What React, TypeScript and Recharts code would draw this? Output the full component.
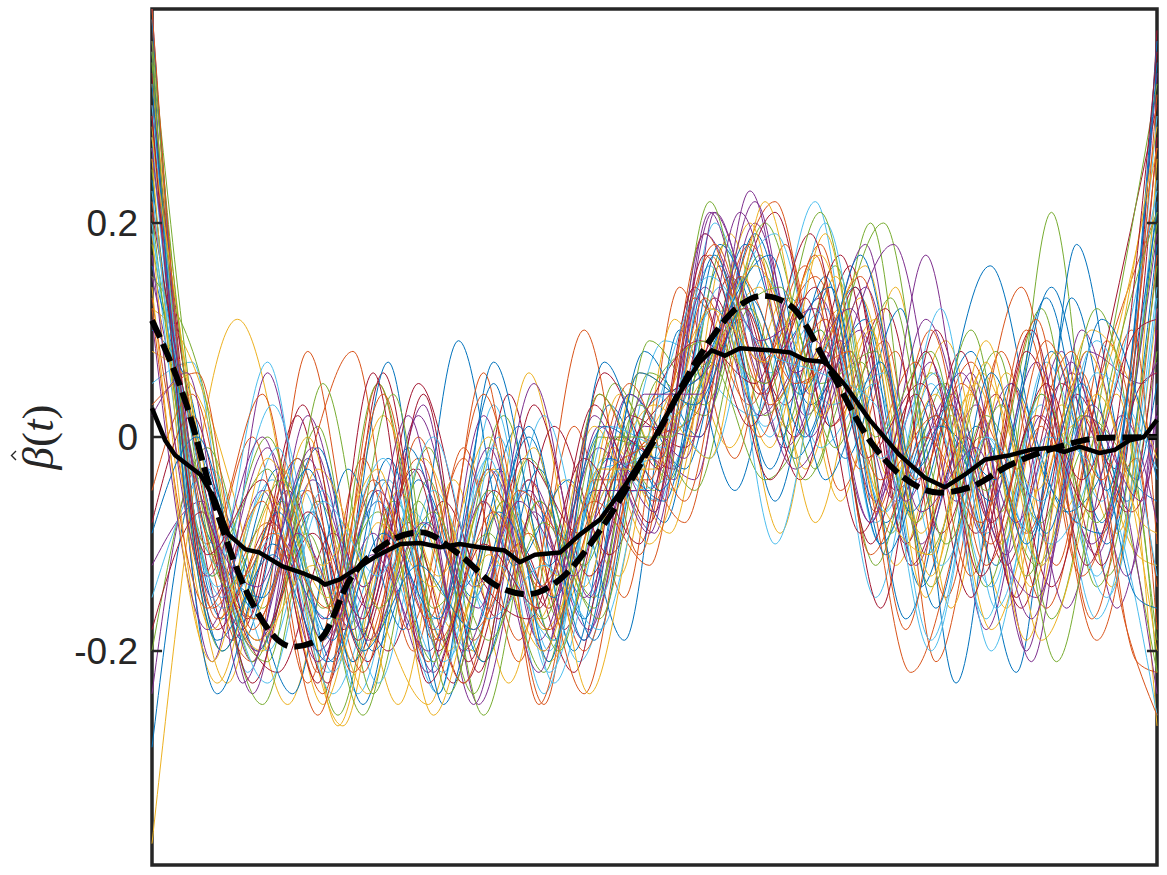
import {
  Line,
  LineChart,
  ReferenceArea,
  ReferenceLine,
  XAxis,
  YAxis,
} from 'recharts';

type Pt = [number, number];

const Y_TICKS = [-0.2, 0, 0.2];
const LINE_COLORS = ['#0072BD', '#D95319', '#EDB120', '#7E2F8E', '#77AC30', '#4DBEEE', '#A2142F'];

// bootstrap estimates at their peaks and troughs
const run01: Pt[] = [[0,0.30],[7,-0.17],[12.5,-0.03],[18,-0.21],[23.5,-0.02],[29,-0.19],[34.5,-0.03],[40,-0.19],[45.5,0.03],[51,-0.08],[56.5,0.16],[62,-0.06],[67.5,0.14],[73,-0.08],[78.5,0.05],[84,-0.12],[89.5,0.08],[95,-0.10],[100,0.18]];
const run02: Pt[] = [[0,0.36],[5,-0.13],[10,0.0],[15.5,-0.23],[21,-0.02],[26,-0.20],[31,-0.01],[36.5,-0.21],[42,0.01],[47,-0.15],[52.5,0.14],[58,-0.02],[63,0.18],[68.5,-0.05],[74,0.08],[79,-0.15],[84.5,0.08],[90,-0.12],[95,0.09],[100,-0.14]];
const run03: Pt[] = [[0,-0.38],[8.5,0.11],[19,-0.27],[24.5,-0.05],[30,-0.18],[35.5,-0.04],[41,-0.16],[46.5,0.04],[52,-0.05],[57.5,0.19],[63,0.01],[68.5,0.12],[74,-0.12],[79.5,0.02],[85,-0.16],[90.5,0.03],[96,-0.09],[100,0.12]];
const run04: Pt[] = [[0,0.37],[6,-0.21],[11.5,0.06],[17,-0.17],[22.5,-0.06],[28,-0.22],[33.5,-0.03],[39,-0.14],[44.5,-0.01],[50,-0.09],[55.5,0.21],[61,0.05],[66.5,0.13],[72,-0.06],[77.5,0.07],[83,-0.18],[88.5,0.02],[94,-0.11],[100,0.34]];
const run05: Pt[] = [[0,0.25],[7,-0.20],[13,-0.06],[18.5,-0.26],[24,-0.06],[29.5,-0.15],[35,0.02],[40.5,-0.17],[46,0.05],[51.5,-0.04],[57,0.18],[62.5,0.0],[68,0.16],[73.5,-0.09],[79,0.05],[84.5,-0.07],[89.5,0.21],[95,-0.13],[100,0.08]];
const run06: Pt[] = [[0,0.05],[4,0.07],[9.5,-0.22],[15,-0.05],[20.5,-0.24],[26,-0.07],[31.5,-0.20],[37,-0.05],[42.5,-0.21],[51,0.09],[60,0.02],[66,0.22],[72,-0.08],[77.5,0.03],[83,-0.17],[88.5,0.04],[94,-0.13],[100,0.24]];
const run07: Pt[] = [[0,0.33],[8,-0.19],[13.5,-0.05],[19,-0.18],[24.5,-0.09],[30,-0.23],[35.5,0.04],[41,-0.18],[46.5,0.0],[52,-0.03],[57.5,0.15],[63,0.03],[68.5,0.17],[74,-0.05],[79.5,0.03],[85,-0.12],[90.5,0.05],[96,-0.03],[100,0.38]];
const run08: Pt[] = [[0,-0.29],[5,-0.03],[10.5,-0.20],[16,-0.07],[21,-0.25],[26.5,-0.04],[32,-0.15],[37.5,0.0],[43,-0.17],[49,0.08],[54.5,0.0],[60,0.19],[65.5,0.03],[71,0.11],[76.5,-0.14],[82,0.01],[87.5,-0.09],[92,0.18],[97,-0.03],[100,-0.06]];
const run09: Pt[] = [[0,0.22],[10,-0.21],[15.5,0.08],[21,-0.14],[26.5,-0.02],[32,-0.19],[37.5,-0.04],[43,-0.20],[48.5,-0.03],[53,-0.08],[58,0.14],[62,0.22],[67.5,0.01],[73,0.09],[78,-0.21],[83.5,-0.02],[89,-0.16],[94.5,0.06],[100,0.21]];
const run10: Pt[] = [[0,0.12],[3,0.09],[8,-0.05],[13.5,-0.25],[19,-0.08],[24.5,-0.25],[30,-0.04],[35.5,-0.23],[41,-0.04],[46.5,-0.13],[52,0.11],[57.5,-0.01],[63,0.13],[68.5,-0.06],[74,0.14],[79.5,-0.16],[85,0.06],[90.5,-0.07],[96,0.04],[100,-0.27]];
const run11: Pt[] = [[0,-0.24],[4.5,-0.03],[10,-0.24],[15.5,-0.02],[21,-0.18],[26.5,0.02],[32,-0.14],[37.5,-0.05],[43,-0.19],[48.5,0.0],[54,-0.04],[59.5,0.23],[65,0.02],[70.5,0.10],[76,-0.12],[81.5,0.06],[87,-0.20],[92.5,0.10],[98,-0.04],[100,0.02]];
const run12: Pt[] = [[0,0.18],[6,-0.10],[11,-0.25],[16.5,-0.06],[22,-0.19],[27.5,-0.01],[33,-0.21],[38.5,-0.06],[44,-0.15],[49.5,0.06],[55,0.02],[60.5,0.17],[66,-0.03],[71.5,0.20],[77,-0.11],[82.5,0.0],[88,-0.12],[93.5,0.0],[100,-0.22]];
const run13: Pt[] = [[0,0.28],[6.5,-0.14],[12,-0.04],[17.5,-0.22],[23,-0.11],[28.5,-0.24],[34,0.03],[39.5,-0.20],[45,-0.02],[50.5,-0.06],[56,0.20],[61.5,0.06],[67,0.12],[72.5,-0.10],[78,0.01],[83.5,-0.14],[89,0.07],[94.5,-0.06],[100,0.30]];
const run14: Pt[] = [[0,0.31],[5,-0.05],[9,-0.18],[14.5,0.02],[20,-0.21],[25.5,-0.08],[31,-0.23],[36.5,-0.10],[42,-0.22],[47.5,0.02],[53,-0.01],[58.5,0.11],[64,0.0],[69.5,0.16],[75,-0.10],[80.5,0.08],[86,-0.15],[91.5,0.06],[97,-0.07],[100,0.10]];
const run15: Pt[] = [[0,0.10],[3.5,0.05],[9,-0.19],[14.5,-0.02],[20,-0.21],[25.5,-0.01],[31,-0.14],[36.5,0.01],[42,-0.20],[47.5,0.04],[53,-0.03],[58.5,0.15],[64,-0.02],[69.5,0.08],[75,-0.17],[80.5,-0.01],[86,-0.22],[91.5,0.13],[97,-0.06],[100,0.05]];
const run16: Pt[] = [[0,0.39],[6,-0.16],[11.5,-0.08],[17,-0.24],[22.5,0.05],[28,-0.19],[33.5,-0.03],[39,-0.25],[44.5,0.04],[50,-0.06],[55.5,0.17],[61,0.04],[66.5,0.18],[72,-0.07],[77.5,0.10],[83,-0.12],[88.5,0.01],[94,-0.19],[100,0.17]];
const run17: Pt[] = [[0,0.29],[7.5,-0.23],[13,-0.03],[18.5,-0.27],[24,-0.07],[29.5,-0.20],[35,-0.06],[40.5,-0.13],[46,-0.01],[51.5,-0.09],[57,0.12],[62.5,-0.09],[68,0.15],[73.5,-0.04],[79,0.09],[84.5,-0.10],[90,0.08],[95.5,-0.14],[100,0.26]];
const run18: Pt[] = [[0,0.15],[5,-0.06],[10.5,-0.20],[16,-0.04],[21.5,-0.16],[27,0.03],[32.5,-0.25],[38,-0.07],[43.5,-0.18],[49,0.01],[54.5,0.0],[60,0.20],[65.5,0.04],[71,0.18],[76.5,-0.10],[82,0.03],[87.5,-0.21],[93,0.08],[98.5,0.05],[100,0.07]];
const run19: Pt[] = [[0,-0.20],[5.5,-0.01],[11,-0.16],[16.5,0.01],[22,-0.24],[27.5,-0.04],[33,-0.26],[38.5,-0.06],[44,-0.16],[49.5,0.09],[55,0.03],[61,0.20],[66.5,0.05],[72,0.08],[77.5,-0.14],[83,0.02],[88.5,-0.08],[94,0.12],[100,-0.19]];
const run20: Pt[] = [[0,0.20],[6,-0.13],[11.5,0.07],[17,-0.18],[22.5,-0.06],[28,-0.17],[33.5,-0.02],[39,-0.24],[44.5,-0.03],[50,-0.02],[55.5,0.16],[61,0.01],[66.5,0.10],[72,-0.15],[77.5,0.05],[83,-0.09],[88.5,0.03],[94,-0.17],[100,0.14]];
const run21: Pt[] = [[0,0.26],[7,-0.12],[12.5,-0.22],[18,-0.09],[23.5,-0.20],[29,-0.06],[34.5,-0.17],[40,0.01],[45.5,-0.11],[51,0.02],[56.5,0.08],[62,0.21],[67.5,0.01],[73,0.12],[78.5,-0.09],[84,0.04],[89.5,-0.14],[95,0.09],[100,0.31]];
const run22: Pt[] = [[0,0.16],[4.5,0.0],[9,-0.11],[14,-0.24],[19.5,-0.03],[25,-0.18],[30.5,0.09],[36,-0.12],[41.5,-0.04],[47,-0.19],[52.5,0.10],[58,-0.05],[63.5,0.13],[69,-0.02],[74.5,0.12],[80,-0.23],[85.5,0.05],[91,-0.07],[96.5,0.02],[100,0.21]];
const run23: Pt[] = [[0,0.13],[5.5,-0.10],[11,0.04],[16.5,-0.22],[22,-0.05],[27.5,-0.21],[33,0.06],[38.5,-0.25],[44,-0.04],[49.5,-0.04],[55,0.19],[60.5,0.07],[66,0.15],[71.5,-0.05],[75.5,-0.22],[81,-0.06],[86.5,0.14],[92,-0.08],[97.5,0.10],[100,-0.10]];
const run24: Pt[] = [[0,0.08],[5,0.03],[10,-0.17],[15.5,0.0],[21,-0.20],[26.5,-0.08],[32,-0.20],[37.5,0.06],[43,-0.14],[48.5,0.06],[54,0.03],[59.5,0.20],[65,-0.03],[70.5,0.13],[76,-0.08],[81.5,0.04],[87,-0.19],[92.5,0.02],[98,-0.11],[100,-0.12]];
const run25: Pt[] = [[0,-0.12],[5,-0.06],[10,-0.21],[15.5,0.02],[21,-0.14],[26.5,-0.03],[32,-0.25],[37.5,-0.04],[43,-0.15],[48.5,-0.01],[52,-0.04],[56,0.21],[63,-0.01],[68.5,0.09],[74,-0.06],[79.5,0.04],[85,-0.11],[90.5,0.08],[96,-0.16],[100,0.03]];
const run26: Pt[] = [[0,0.21],[6,-0.11],[11.5,-0.03],[17,-0.19],[22.5,0.05],[28,-0.16],[33.5,-0.09],[39,-0.22],[44.5,0.0],[50,-0.01],[55.5,0.07],[61,-0.04],[66.5,0.04],[72.8,0.20],[78.5,-0.05],[84,0.08],[89.5,-0.17],[95,0.07],[100,0.33]];
const run27: Pt[] = [[0,-0.15],[6,-0.03],[11.5,-0.20],[17,-0.05],[22.5,-0.23],[28,-0.05],[33.5,-0.16],[39,0.02],[44.5,-0.15],[50,0.04],[55.5,-0.02],[61,0.15],[66.5,-0.01],[72,0.05],[77.5,-0.19],[83,0.0],[88.5,-0.12],[94,0.06],[100,-0.03]];
const run28: Pt[] = [[0,0.34],[6.5,-0.18],[12,-0.08],[17.5,-0.23],[23,0.06],[28.5,-0.20],[34,-0.05],[39.5,-0.16],[45,0.06],[50.5,-0.03],[56,0.13],[61.5,-0.04],[67,0.08],[72.5,-0.16],[78,0.10],[83.5,-0.08],[89,0.05],[94.5,-0.12],[100,0.28]];
const run29: Pt[] = [[0,0.24],[5.5,-0.09],[11,-0.15],[16.5,-0.01],[22,-0.20],[27.5,-0.08],[33,-0.21],[38.5,-0.03],[44,-0.19],[49.5,0.03],[55,0.06],[59,0.18],[64.5,0.04],[70,0.14],[75.5,-0.07],[83.4,0.16],[89,-0.04],[94.5,-0.09],[100,0.22]];
const run30: Pt[] = [[0,0.30],[5,-0.08],[10.5,-0.17],[15,-0.04],[20,0.08],[25.5,-0.18],[31,-0.02],[36.5,-0.19],[43,0.10],[48.5,-0.11],[54,0.13],[59.5,0.03],[65,0.16],[70.5,-0.03],[76,0.07],[81.5,-0.13],[87,0.10],[92.5,-0.13],[98,-0.02],[100,-0.18]];
const run31: Pt[] = [[0,0.19],[6.5,-0.23],[12,-0.06],[17.5,-0.15],[23,0.02],[28.5,-0.13],[34,-0.03],[39.5,-0.21],[45,-0.07],[50.5,0.02],[56,0.12],[61.5,-0.01],[67,0.19],[72.5,-0.07],[78,0.04],[83.5,-0.18],[89,-0.02],[94.5,0.05],[100,0.27]];
const run32: Pt[] = [[0,0.40],[6,-0.15],[11.5,-0.01],[17,-0.19],[22.5,-0.05],[28,-0.18],[33.5,-0.01],[39,-0.20],[44.5,0.01],[50,-0.07],[55.8,0.21],[64,-0.03],[73.8,0.18],[80,-0.06],[85.5,0.05],[91,-0.16],[96.5,0.02],[100,-0.08]];
const run33: Pt[] = [[0,0.15],[5,0.05],[10,-0.21],[15.5,-0.09],[21,-0.26],[26.5,-0.06],[32,-0.24],[37.5,-0.02],[43,-0.12],[48.5,0.03],[54,-0.05],[59.5,0.12],[65,-0.04],[70.5,0.07],[76,-0.08],[81.5,0.10],[87,-0.13],[92.5,0.02],[98,-0.05],[100,-0.22]];
const run34: Pt[] = [[0,0.27],[7,-0.16],[12.5,-0.09],[18,-0.24],[23.5,-0.12],[29,-0.22],[34.5,0.0],[40,-0.23],[45.5,-0.06],[51,-0.04],[56.5,0.10],[62,0.19],[67.5,0.03],[73,0.06],[78.5,-0.12],[84,-0.01],[89.5,-0.10],[95,0.02],[100,0.23]];
const run35: Pt[] = [[0,-0.08],[4,0.02],[9.5,-0.17],[15,0.03],[20.5,-0.19],[26,-0.03],[31.5,-0.21],[37,-0.02],[42.5,-0.09],[48,0.0],[53.5,0.06],[59,0.12],[64.5,-0.04],[70,0.14],[75.5,-0.12],[81,0.0],[86.5,-0.16],[92,0.04],[97.5,-0.07],[100,-0.01]];
const run36: Pt[] = [[0,0.36],[6.5,-0.24],[12,-0.10],[17.5,-0.17],[23,-0.04],[28.5,-0.24],[34,0.07],[39.5,-0.12],[45,0.01],[50.5,-0.02],[56,0.17],[61.5,-0.03],[67,0.15],[72.5,-0.10],[78,0.02],[83.5,-0.06],[89,0.13],[94.5,-0.08],[100,0.35]];
const run37: Pt[] = [[0,0.03],[4.5,0.06],[10,-0.18],[15.5,-0.05],[21,-0.22],[26.5,0.0],[32,-0.18],[37.5,-0.09],[43,-0.24],[48.5,-0.01],[54,0.02],[59.5,0.18],[65,0.05],[70.5,0.15],[76,-0.04],[81.5,0.07],[87,-0.09],[92.5,0.06],[98,-0.21],[100,-0.22]];
const run38: Pt[] = [[0,0.33],[5.5,-0.07],[11,-0.20],[16.5,-0.03],[22,-0.15],[27.5,-0.25],[33,-0.06],[38.5,-0.17],[44,0.01],[49.5,-0.10],[55,0.05],[60.5,0.14],[66,-0.08],[71.5,0.10],[77,-0.15],[82.5,0.06],[88,-0.05],[93.5,0.10],[100,-0.02]];
const run39: Pt[] = [[0,0.11],[5.5,-0.18],[11,-0.05],[16.5,-0.21],[22,-0.09],[27.5,-0.22],[33,0.02],[38.5,-0.19],[44,-0.05],[49.5,-0.05],[55,0.14],[60.5,0.02],[66,0.09],[71.5,-0.08],[77,0.17],[82.5,-0.09],[88,0.07],[93.5,-0.10],[100,0.19]];
const run40: Pt[] = [[0,0.35],[6,-0.13],[11.5,0.0],[17,-0.16],[22.5,-0.07],[28,-0.21],[33.5,-0.05],[39,-0.17],[44.5,0.04],[50,-0.05],[55.5,0.22],[61,0.02],[66.5,0.10],[72,-0.12],[77.5,0.06],[83,-0.05],[88.5,0.12],[94,-0.14],[100,0.16]];
const run41: Pt[] = [[0,0.31],[6.5,-0.12],[12,0.03],[17.5,-0.14],[23,-0.02],[28.5,-0.18],[34,-0.01],[39.5,-0.22],[45,-0.05],[50.5,0.0],[56,0.12],[61.5,0.0],[67,0.20],[72.5,-0.02],[78,0.06],[83.5,-0.20],[89,0.0],[94.5,-0.04],[100,-0.26]];
const run42: Pt[] = [[0,0.21],[5,-0.04],[10.5,-0.19],[16,-0.09],[21.5,-0.21],[27,0.04],[32.5,-0.22],[38,0.03],[43.5,-0.13],[49,0.02],[54.5,0.09],[60,0.05],[65.5,0.19],[71,-0.02],[76.5,0.05],[82,-0.09],[87.5,0.10],[93,-0.12],[98.5,0.05],[100,0.06]];
const run43: Pt[] = [[0,0.39],[7,-0.20],[12.5,-0.07],[18,-0.19],[23.5,0.07],[29,-0.25],[34.5,-0.07],[40,-0.15],[45.5,-0.02],[51,-0.06],[56.5,0.18],[62,0.08],[67.5,0.14],[73,-0.11],[78.5,0.01],[84,-0.04],[89.5,0.14],[95,-0.05],[100,0.37]];
const run44: Pt[] = [[0,-0.05],[4,0.04],[9,-0.13],[14.5,-0.02],[20,-0.22],[25.5,-0.10],[31,-0.23],[36.5,-0.05],[42,-0.10],[47.5,0.05],[53,-0.06],[58.5,0.15],[64,0.05],[69.5,0.08],[75,-0.18],[80.5,0.05],[86,-0.03],[91.5,0.08],[97,-0.18],[100,-0.26]];
const run45: Pt[] = [[0,0.26],[6,-0.18],[11.5,-0.05],[17,-0.25],[22.5,-0.08],[28,-0.14],[33.5,0.0],[39,-0.18],[44.5,-0.06],[50,0.03],[55.5,-0.02],[61,0.22],[66.5,0.02],[72,0.11],[77.5,-0.13],[83,0.07],[88.5,-0.19],[94,-0.02],[100,0.29]];
const run46: Pt[] = [[0,0.17],[5.5,-0.13],[11,0.0],[16.5,-0.20],[22,-0.11],[27.5,-0.20],[33,-0.06],[38.5,-0.22],[44,0.02],[49.5,-0.09],[55,0.19],[60.5,0.09],[66,0.12],[71.5,-0.08],[77,0.11],[82.5,-0.06],[88,-0.15],[93.5,0.03],[100,-0.24]];
const run47: Pt[] = [[0,0.37],[6,-0.09],[11.5,-0.21],[17,0.05],[22.5,-0.16],[28,-0.07],[33.5,-0.19],[39,-0.08],[44.5,-0.17],[50,0.05],[55.5,0.09],[61,0.05],[66.5,0.21],[72,0.0],[77.5,0.08],[83,-0.14],[88.5,0.04],[94,-0.08],[100,0.20]];
const run48: Pt[] = [[0,0.23],[7,-0.15],[12.5,-0.01],[18,-0.22],[23.5,-0.04],[29,-0.21],[34.5,-0.12],[40,-0.19],[45.5,0.01],[51,-0.01],[56.5,0.14],[62,-0.10],[67.5,0.09],[73,-0.07],[78.5,0.12],[84,-0.16],[89.5,-0.01],[95,-0.15],[100,0.13]];
const run49: Pt[] = [[0,-0.18],[5,-0.07],[10,-0.23],[15.5,-0.07],[21,-0.17],[26.5,0.05],[32,-0.12],[37.5,-0.17],[43,-0.02],[48.5,-0.10],[54,0.14],[59.5,0.01],[65,0.13],[70.5,-0.09],[76,0.04],[81.5,-0.15],[87,0.08],[92.5,-0.04],[98,0.10],[100,0.11]];
const run50: Pt[] = [[0,0.33],[6.5,-0.19],[12,-0.11],[17.5,-0.21],[23,-0.09],[28.5,-0.17],[34,0.05],[39.5,-0.21],[45,0.07],[50.5,-0.05],[56,0.09],[61.5,0.17],[67,-0.04],[72.5,0.07],[78,-0.16],[83.5,0.06],[89,-0.09],[94.5,0.11],[100,-0.04]];
const run51: Pt[] = [[0,0.12],[5.5,-0.16],[11,-0.06],[16.5,-0.26],[22,-0.04],[27.5,-0.17],[33,0.04],[38.5,-0.14],[44,-0.06],[49.5,-0.12],[55,0.13],[60.5,0.0],[66,0.17],[71.5,-0.11],[77,0.0],[82.5,-0.08],[88,0.11],[93.5,-0.17],[100,0.32]];
const run52: Pt[] = [[0,0.28],[5,-0.02],[10.5,-0.19],[16,-0.12],[21.5,-0.24],[27,-0.02],[32.5,-0.14],[38,-0.01],[43.5,-0.24],[49,-0.03],[54.5,0.05],[60,0.16],[65.5,0.07],[71,0.16],[76.5,-0.09],[82,0.05],[87.5,-0.14],[93,0.08],[98.5,-0.08],[100,-0.09]];
const run53: Pt[] = [[0,0.02],[3.5,0.06],[9,-0.23],[14.5,-0.09],[20,-0.18],[25.5,0.02],[31,-0.20],[36.5,-0.06],[42,-0.13],[47.5,0.04],[53,-0.02],[58.5,0.21],[64,0.06],[69.5,0.12],[75,-0.06],[80.5,0.06],[86,-0.08],[91.5,0.07],[97,-0.13],[100,0.02]];
const run54: Pt[] = [[0,0.36],[7.5,-0.14],[13,-0.04],[18.5,-0.17],[24,0.04],[29.5,-0.24],[35,-0.06],[40.5,-0.20],[46,0.0],[51.5,0.0],[57,0.10],[62.5,0.14],[68,-0.01],[73.5,0.13],[79,-0.10],[84.5,0.03],[90,-0.21],[95.5,0.06],[100,0.21]];
const run55: Pt[] = [[0,0.19],[6,-0.08],[11.5,-0.23],[17,-0.06],[22.5,-0.13],[28,0.0],[33.5,-0.17],[39,-0.12],[44.5,-0.18],[50,0.02],[55.5,0.15],[61,0.08],[66.5,0.06],[72,0.03],[77.5,-0.20],[83,0.0],[88.5,-0.06],[94,0.09],[100,-0.13]];
const run56: Pt[] = [[0,0.30],[5.5,-0.11],[11,-0.04],[16.5,-0.23],[22,0.06],[27.5,-0.23],[33,-0.10],[38.5,-0.16],[44,0.03],[49.5,-0.08],[55,0.17],[60.5,0.04],[66,0.14],[71.5,-0.10],[77,0.08],[82.5,-0.13],[88,0.02],[93.5,-0.07],[100,0.36]];
const run57: Pt[] = [[0,-0.09],[4.5,0.0],[10,-0.16],[15.5,-0.03],[21,-0.20],[26.5,-0.12],[32,-0.18],[37.5,0.01],[43,-0.19],[48.5,0.06],[54,0.03],[59.5,0.13],[65,0.0],[70.5,0.17],[76,-0.03],[81.5,0.08],[87,-0.10],[92.5,0.05],[98,-0.15],[100,-0.16]];
const run58: Pt[] = [[0,0.40],[6.5,-0.17],[12,-0.09],[17.5,-0.16],[23,0.04],[28.5,-0.19],[34,-0.07],[39.5,-0.18],[45,-0.04],[50.5,0.01],[56,0.18],[61.5,0.03],[67,0.11],[72.5,-0.04],[78,0.02],[83.5,-0.10],[89,0.09],[94.5,-0.04],[100,0.27]];
const run59: Pt[] = [[0,0.14],[6,-0.21],[11.5,-0.02],[17,-0.12],[22.5,-0.03],[28,-0.26],[33.5,-0.11],[39,-0.20],[44.5,-0.03],[50,-0.03],[55.5,0.12],[61,0.07],[66.5,0.17],[72,-0.05],[77.5,-0.11],[83,0.09],[88.5,-0.12],[94,0.04],[100,-0.20]];
const run60: Pt[] = [[0,0.27],[5,-0.06],[10.5,-0.14],[16,-0.01],[21.5,-0.19],[27,-0.08],[32.5,-0.16],[38,0.05],[43.5,-0.15],[49,0.04],[54.5,0.04],[60,0.22],[65.5,0.0],[71,0.14],[76.5,-0.07],[82,-0.01],[87.5,-0.17],[93,0.02],[98.5,-0.06],[100,0.12]];

const RUNS = [
  run01, run02, run03, run04, run05, run06, run07, run08, run09, run10,
  run11, run12, run13, run14, run15, run16, run17, run18, run19, run20,
  run21, run22, run23, run24, run25, run26, run27, run28, run29, run30,
  run31, run32, run33, run34, run35, run36, run37, run38, run39, run40,
  run41, run42, run43, run44, run45, run46, run47, run48, run49, run50,
  run51, run52, run53, run54, run55, run56, run57, run58, run59, run60,
];

// mean of the estimates (solid black)
const meanCurve: Pt[] = [[0,0.027],[1.3,-0.003],[2.3,-0.017],[4.8,-0.035],[6.3,-0.059],[7.6,-0.091],[9.3,-0.105],[10.7,-0.108],[13,-0.121],[15.2,-0.128],[16.5,-0.133],[17.2,-0.138],[18.7,-0.133],[20.2,-0.124],[22.2,-0.112],[24.7,-0.1],[26.7,-0.099],[28.7,-0.103],[30.6,-0.1],[32.6,-0.103],[35.1,-0.106],[36.6,-0.117],[38.1,-0.11],[40.6,-0.108],[42.6,-0.091],[44.6,-0.077],[47.1,-0.045],[49.6,-0.007],[52,0.034],[54.5,0.07],[55.7,0.081],[57,0.076],[58.5,0.083],[61.5,0.081],[63.5,0.079],[65,0.072],[67,0.07],[69,0.048],[71.4,0.016],[74.4,-0.017],[76.9,-0.038],[78.9,-0.047],[80.9,-0.035],[82.9,-0.021],[85.4,-0.017],[87.4,-0.012],[89.4,-0.01],[90.8,-0.014],[92.3,-0.009],[94.3,-0.015],[95.8,-0.012],[97.3,-0.003],[98.7,0],[100,0.016]];

// true coefficient function (dashed black)
const trueCurve: Pt[] = [[0,0.109],[3.3,0.034],[6.5,-0.071],[9.8,-0.152],[14,-0.196],[16.7,-0.189],[19.7,-0.133],[23.2,-0.1],[26.7,-0.089],[30.6,-0.11],[34.1,-0.138],[37.3,-0.147],[40.6,-0.133],[44.6,-0.087],[49.6,-0.009],[54.5,0.076],[58.5,0.123],[60.7,0.132],[63.5,0.123],[67.5,0.062],[71.4,-0.003],[74.4,-0.035],[78.4,-0.052],[81.4,-0.047],[85.4,-0.026],[90.3,-0.009],[94.3,-0.001],[100,0]];

const toRows = (pts: Pt[]) => pts.map(([t, y]) => ({ t, y }));

// rotated LaTeX-like label: beta-hat of t
const renderYLabel = (props: any) => {
  const { viewBox } = props;
  const bx = viewBox.x + 53;
  const cy = viewBox.y + viewBox.height / 2;
  return (
    <g transform={`translate(${bx} ${cy}) rotate(-90)`}>
      <text
        x={0}
        y={0}
        textAnchor="middle"
        fill="#262626"
        fontFamily="'Liberation Serif', 'DejaVu Serif', serif"
        fontSize={45}
      >
        <tspan fontStyle="italic">{'\u03B2'}</tspan>
        <tspan>(</tspan>
        <tspan fontStyle="italic">t</tspan>
        <tspan>)</tspan>
      </text>
      <path d="M -23 -37 L -18.5 -41.5 L -14 -37" fill="none" stroke="#262626" strokeWidth={1.4} />
    </g>
  );
};

const App = () => {
  return (
    <div style={{ position: 'absolute', left: 0, top: 0, background: '#fff' }}>
      <LineChart
        width={1167}
        height={875}
        margin={{ top: 9, right: 10, bottom: 10, left: 0 }}
      >
        <XAxis type="number" dataKey="t" domain={[0, 100]} hide />
        <YAxis
          type="number"
          domain={[-0.4, 0.4]}
          ticks={Y_TICKS}
          width={152}
          axisLine={false}
          tickLine={false}
          tickSize={0}
          tickMargin={14}
          allowDataOverflow
          tickFormatter={(v: number) => (v === 0 ? '0' : v.toFixed(1))}
          tick={{
            fill: '#262626',
            fontSize: 37,
            fontFamily: "'Liberation Sans', Arial, sans-serif",
          }}
          label={renderYLabel}
        />

        {RUNS.map((run, i) => (
          <Line
            key={i}
            data={toRows(run)}
            dataKey="y"
            type="monotone"
            stroke={LINE_COLORS[i % LINE_COLORS.length]}
            strokeWidth={1}
            dot={false}
            activeDot={false}
            isAnimationActive={false}
          />
        ))}

        <Line
          data={toRows(meanCurve)}
          dataKey="y"
          type="linear"
          stroke="#000"
          strokeWidth={4.5}
          strokeLinejoin="round"
          dot={false}
          activeDot={false}
          isAnimationActive={false}
        />
        <Line
          data={toRows(trueCurve)}
          dataKey="y"
          type="monotone"
          stroke="#000"
          strokeWidth={6}
          strokeDasharray="19 7"
          dot={false}
          activeDot={false}
          isAnimationActive={false}
        />

        {Y_TICKS.map((v) => (
          <ReferenceLine
            key={`l${v}`}
            segment={[{ x: 0, y: v }, { x: 1, y: v }]}
            stroke="#262626"
            strokeWidth={2.5}
          />
        ))}
        {Y_TICKS.map((v) => (
          <ReferenceLine
            key={`r${v}`}
            segment={[{ x: 99, y: v }, { x: 100, y: v }]}
            stroke="#262626"
            strokeWidth={2.5}
          />
        ))}
        <ReferenceArea
          x1={0}
          x2={100}
          y1={-0.4}
          y2={0.4}
          fill="none"
          fillOpacity={0}
          stroke="#262626"
          strokeWidth={3.5}
          ifOverflow="visible"
        />
      </LineChart>
    </div>
  );
};

export default App;
